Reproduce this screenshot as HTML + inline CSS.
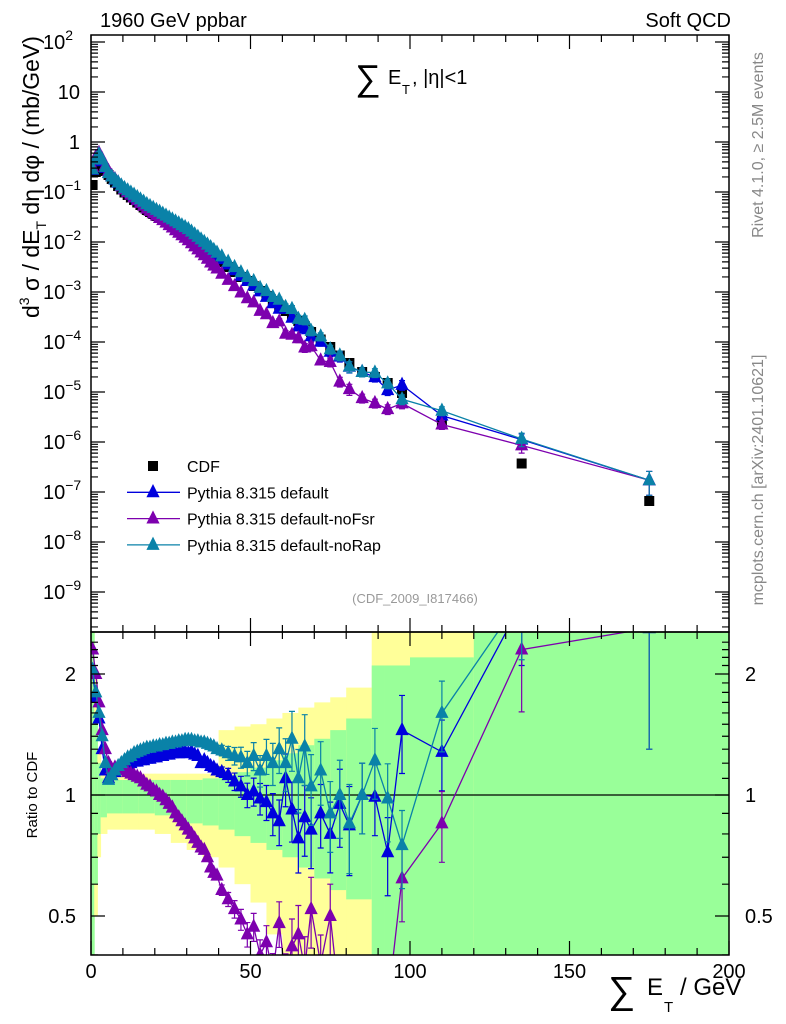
<!DOCTYPE html>
<html><head><meta charset="utf-8"><style>
html,body{margin:0;padding:0;background:#fff;}
svg{display:block;font-family:"Liberation Sans",sans-serif;}
</style></head><body>
<svg id="chart" width="786" height="1024" xmlns="http://www.w3.org/2000/svg">
<defs>
<clipPath id="clipMain"><rect x="91" y="35" width="638" height="597"/></clipPath>
<clipPath id="clipRatio"><rect x="91" y="632" width="638" height="323"/></clipPath>
</defs>
<g id="bands" clip-path="url(#clipRatio)"></g>
<g id="series-ratio" clip-path="url(#clipRatio)"></g>
<g id="series-main" clip-path="url(#clipMain)"></g>
<g id="axes"></g>
<text x="100" y="27" font-size="20">1960 GeV ppbar</text>
<text x="731" y="27" font-size="20" text-anchor="end">Soft QCD</text>
<g>
<text x="355" y="90" font-size="36">∑</text>
<text x="388" y="84" font-size="20">E</text>
<text x="402" y="94" font-size="13">T</text>
<text x="412" y="84" font-size="20">, |η|&lt;1</text>
</g>
<text x="415" y="603" font-size="13" fill="#999" text-anchor="middle">(CDF_2009_I817466)</text>
<text transform="translate(763,145) rotate(-90)" font-size="16" fill="#888" text-anchor="middle">Rivet 4.1.0, ≥ 2.5M events</text>
<text transform="translate(763,480) rotate(-90)" font-size="16" fill="#888" text-anchor="middle">mcplots.cern.ch [arXiv:2401.10621]</text>
<g transform="translate(39,318) rotate(-90)">
<text x="0" y="0" font-size="23">d<tspan font-size="14" dy="-10">3</tspan><tspan dy="10"> σ / dE</tspan><tspan font-size="14" dy="7">T</tspan><tspan dy="-7"> dη dφ / (mb/GeV)</tspan></text>
</g>
<text transform="translate(37,795) rotate(-90)" font-size="15" text-anchor="middle">Ratio to CDF</text>
<g>
<text x="608" y="1003" font-size="38">∑</text>
<text x="647" y="995" font-size="24">E</text>
<text x="664" y="1012" font-size="15">T</text>
<text x="680" y="995" font-size="24">/ GeV</text>
</g>
<g id="legend"></g>
</svg>
<script>
const xVals=[0.5,1.5,2.5,3.5,4.5,5.5,6.5,7.5,8.5,9.5,10.5,11.5,12.5,13.5,14.5,15.5,16.5,17.5,18.5,19.5,20.5,21.5,22.5,23.5,24.5,25.5,26.5,27.5,28.5,29.5,30.5,31.5,32.5,33.5,34.5,35.5,36.5,37.5,38.5,39.5,41,43,45,47,49,51,53,55,57,59,61,63,65,67,69,72,75,78,81,85,89,93,97.5,110,135,175];
const cdfLog10=[-0.86,-0.6,-0.45,-0.5,-0.58,-0.66,-0.74,-0.81,-0.88,-0.95,-1.01,-1.06,-1.11,-1.16,-1.21,-1.26,-1.31,-1.36,-1.4,-1.44,-1.48,-1.52,-1.56,-1.6,-1.64,-1.68,-1.72,-1.76,-1.8,-1.84,-1.88,-1.93,-1.98,-2.03,-2.08,-2.13,-2.18,-2.23,-2.28,-2.33,-2.4,-2.5,-2.6,-2.7,-2.78,-2.88,-2.98,-3.08,-3.18,-3.27,-3.38,-3.48,-3.58,-3.68,-3.8,-3.95,-4.1,-4.27,-4.42,-4.6,-4.7,-4.82,-5.02,-5.58,-6.43,-7.18];
const ratioDefault=[2.0,1.75,1.55,1.3,1.15,1.1,1.12,1.14,1.16,1.17,1.18,1.19,1.2,1.21,1.21,1.22,1.22,1.23,1.23,1.24,1.24,1.25,1.25,1.26,1.26,1.27,1.27,1.27,1.28,1.28,1.27,1.28,1.26,1.25,1.2,1.22,1.2,1.18,1.17,1.15,1.14,1.12,1.08,1.05,1.0,1.02,0.98,0.96,0.9,0.86,1.1,0.92,0.78,0.88,0.82,0.9,0.8,0.95,0.84,1.0,0.99,0.72,1.45,1.28,3.0,2.6];
const ratioNoFsr=[2.3,2.0,1.7,1.45,1.3,1.2,1.16,1.17,1.17,1.16,1.15,1.14,1.13,1.12,1.11,1.1,1.08,1.06,1.05,1.03,1.02,1.0,0.99,0.97,0.95,0.93,0.9,0.88,0.86,0.84,0.82,0.8,0.78,0.76,0.74,0.73,0.7,0.66,0.64,0.63,0.58,0.55,0.52,0.49,0.45,0.47,0.4,0.43,0.36,0.48,0.35,0.42,0.45,0.37,0.52,0.38,0.5,0.3,0.3,0.3,0.3,0.3,0.62,0.85,2.3,2.6];
const ratioNoRap=[2.05,1.8,1.6,1.4,1.2,1.09,1.12,1.15,1.18,1.2,1.22,1.24,1.25,1.27,1.28,1.29,1.3,1.31,1.31,1.32,1.32,1.33,1.33,1.34,1.34,1.35,1.35,1.36,1.36,1.37,1.37,1.37,1.36,1.36,1.35,1.35,1.34,1.33,1.32,1.3,1.29,1.27,1.25,1.24,1.2,1.25,1.15,1.25,1.2,1.3,1.2,1.38,1.1,1.32,1.05,1.15,0.9,1.0,0.85,1.0,1.22,0.98,0.75,1.6,3.1,2.6];
const relErr=[0,0,0,0,0,0,0,0,0,0,0,0,0,0,0,0,0,0,0,0,0,0,0,0,0,0,0,0,0,0,0,0,0,0,0,0,0,0,0,0,0.03,0.04,0.05,0.06,0.07,0.08,0.09,0.1,0.12,0.13,0.15,0.17,0.18,0.2,0.2,0.18,0.2,0.22,0.25,0.2,0.2,0.22,0.22,0.2,0.3,0.5];
const bandEdges=[0,1,2,3,5,10,15,20,25,30,35,40,45,50,55,60,65,70,75,80,88,92,100,120,200];
const greenLo=[0.3,0.6,0.8,0.88,0.9,0.9,0.9,0.89,0.87,0.85,0.84,0.82,0.79,0.76,0.73,0.7,0.66,0.62,0.58,0.55,0.3,0.3,0.3,0.3];
const greenHi=[3,1.6,1.2,1.1,1.09,1.09,1.09,1.09,1.09,1.09,1.1,1.12,1.14,1.17,1.22,1.27,1.33,1.38,1.45,1.55,2.1,2.1,2.2,3];
const yellowLo=[0.48,0.5,0.7,0.8,0.82,0.82,0.82,0.8,0.76,0.73,0.7,0.66,0.6,0.54,0.45,0.38,0.35,0.3,0.3,0.3,0.3,0.3,0.3,0.3];
const yellowHi=[3,2,1.3,1.15,1.13,1.13,1.13,1.13,1.13,1.13,1.13,1.45,1.48,1.5,1.55,1.6,1.65,1.7,1.75,1.85,3,3,3,3];
const xTicks=[0,50,100,150,200];
const mainTickExp=[2,1,0,-1,-2,-3,-4,-5,-6,-7,-8,-9];
const ratioTicks=[0.5,1,2];

const NS='http://www.w3.org/2000/svg';
const X0=91,X1=729,MT=35,MB=632,RB=955;
const sx=v=>X0+(X1-X0)*v/200;
const syMain=lv=>142-50*lv;
const syRatio=r=>795-121*Math.log2(r);
function mk(tag,attrs,parent){const e=document.createElementNS(NS,tag);for(const k in attrs)e.setAttribute(k,attrs[k]);parent.appendChild(e);return e;}
const bands=document.getElementById('bands'),sr=document.getElementById('series-ratio'),sm=document.getElementById('series-main'),ax=document.getElementById('axes'),lg=document.getElementById('legend');

for(let i=0;i<bandEdges.length-1;i++){
  const x=sx(bandEdges[i]),w=sx(bandEdges[i+1])-x;
  let y1=syRatio(yellowHi[i]),y2=syRatio(yellowLo[i]);
  const yb=mk('rect',{x:x,y:y1,width:w+0.5,height:y2-y1,fill:'#ffff99'},bands);
  
  
  y1=syRatio(greenHi[i]);y2=syRatio(greenLo[i]);
  const gb=mk('rect',{x:x,y:y1,width:w+0.5,height:y2-y1,fill:'#99ff99'},bands);
  
  
}
const ref=mk('line',{x1:X0,x2:X1,y1:syRatio(1),y2:syRatio(1),stroke:'#000','stroke-width':1.2},bands);



function tri(g,x,y,c,s){return mk('path',{d:`M${x},${y-s*0.75}L${x+s*0.6},${y+s*0.45}L${x-s*0.6},${y+s*0.45}Z`,fill:c},g);}

const series=[
 {name:'pythia-default',ratio:ratioDefault,color:'#0000dd'},
 {name:'pythia-nofsr',ratio:ratioNoFsr,color:'#7d00ae'},
 {name:'pythia-norap',ratio:ratioNoRap,color:'#0a82a8'}
];
const cdfG=mk('g',{},sm);


xVals.forEach((x,i)=>{
  const px=sx(x),py=syMain(cdfLog10[i]);
  const r=mk('rect',{x:px-5,y:py-5,width:10,height:10,fill:'#000'},cdfG);
  
  
});
series.forEach(s=>{
  const gm=mk('g',{},sm);
  
  
  const gr=mk('g',{},sr);
  
  
  let dm='',dr='';
  xVals.forEach((x,i)=>{
    const lv=cdfLog10[i]+Math.log10(s.ratio[i]);
    const px=sx(x);
    dm+=(i?'L':'M')+px+','+syMain(lv);
    dr+=(i?'L':'M')+px+','+syRatio(s.ratio[i]);
  });
  mk('path',{d:dm,fill:'none',stroke:s.color,'stroke-width':1.3},gm);
  mk('path',{d:dr,fill:'none',stroke:s.color,'stroke-width':1.3},gr);
  xVals.forEach((x,i)=>{
    const px=sx(x),e=relErr[i],r=s.ratio[i];
    const lv=cdfLog10[i]+Math.log10(r);
    if(e>0){
      const a=syMain(lv+Math.log10(1+e)),b=syMain(lv+Math.log10(1-e));
      mk('path',{d:`M${px},${a}L${px},${b}M${px-3},${a}h6M${px-3},${b}h6`,stroke:s.color,'stroke-width':1.2,fill:'none'},gm);
      const c=syRatio(r*(1+e)),d=syRatio(r*(1-e));
      mk('path',{d:`M${px},${c}L${px},${d}M${px-3},${c}h6M${px-3},${d}h6`,stroke:s.color,'stroke-width':1.2,fill:'none'},gr);
    }
    const t1=tri(gm,px,syMain(lv),s.color,11);
    
    
    const t2=tri(gr,px,syRatio(r),s.color,11);
    
    
  });
});

const f1=mk('rect',{x:X0,y:MT,width:X1-X0,height:MB-MT,fill:'none',stroke:'#000','stroke-width':1.5},ax);


const f2=mk('rect',{x:X0,y:MB,width:X1-X0,height:RB-MB,fill:'none',stroke:'#000','stroke-width':1.5},ax);


let td='';
for(let v=0;v<=200;v+=10){const L=v%50===0?14:7,px=sx(v);
  td+=`M${px},${MT}v${L}M${px},${MB}v${-L}M${px},${MB}v${L}M${px},${RB}v${-L}`;}
for(let e=-10;e<=2;e++){for(let m=1;m<10;m++){const lv=e+Math.log10(m),py=syMain(lv);if(py<MT||py>MB)continue;const L=m===1?14:7;
  td+=`M${X0},${py}h${L}M${X1},${py}h${-L}`;}}
for(let r=0.4;r<=2.5;r+=0.1){const py=syRatio(r);if(py<MB||py>RB)continue;const maj=ratioTicks.some(t=>Math.abs(t-r)<1e-6);const L=maj?14:7;
  td+=`M${X0},${py}h${L}M${X1},${py}h${-L}`;}
const ticks=mk('path',{d:td,stroke:'#000','stroke-width':1.2,fill:'none'},ax);


xTicks.forEach(v=>{const t=mk('text',{x:sx(v),y:978,'font-size':20,'text-anchor':'middle'},ax);t.textContent=v;
  
  });
mainTickExp.forEach(e=>{const py=syMain(e);
  let t;
  if(e===1||e===0){t=mk('text',{x:80,y:py+7,'font-size':20,'text-anchor':'end'},ax);t.textContent=e===1?'10':'1';}
  else{t=mk('text',{x:43,y:py+7,'font-size':20},ax);t.textContent='10';const s=document.createElementNS(NS,'tspan');s.setAttribute('font-size',14);s.setAttribute('dy',-9);s.textContent=String(e).replace('-','\u2212');t.appendChild(s);}
  
  
});
ratioTicks.forEach(r=>{const py=syRatio(r);
  const t=mk('text',{x:76,y:py+7,'font-size':20,'text-anchor':'end'},ax);t.textContent=r;
  
  
  const t2=mk('text',{x:745,y:py+7,'font-size':20},ax);t2.textContent=r;
  
  });

const leg=[{label:'CDF',color:'#000',sq:true},{label:'Pythia 8.315 default',color:'#0000dd'},{label:'Pythia 8.315 default-noFsr',color:'#7d00ae'},{label:'Pythia 8.315 default-noRap',color:'#0a82a8'}];
leg.forEach((l,i)=>{const y=466+i*26.3;
  const g=mk('g',{},lg);
  
  
  if(l.sq)mk('rect',{x:148,y:y-5,width:10,height:10,fill:'#000'},g);
  else{mk('line',{x1:127,x2:180,y1:y,y2:y,stroke:l.color,'stroke-width':1.3},g);tri(g,153,y,l.color,11);}
  const t=mk('text',{x:187,y:y+6,'font-size':16},g);t.textContent=l.label;});
</script>
</body></html>
